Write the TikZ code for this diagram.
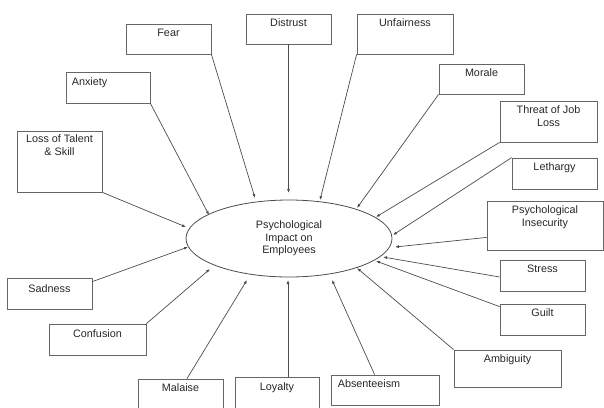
\documentclass[tikz,border=0pt]{standalone}
\usepackage{fontspec}
\setmainfont{Liberation Sans}
\usetikzlibrary{arrows.meta,calc,shapes.geometric}
\begin{document}
\begin{tikzpicture}[x=1pt,y=-1pt,
  box/.style={draw=black!60,line width=0.8pt,inner sep=0pt,rectangle},
  lab/.style={font=\fontsize{10.8}{13}\selectfont,text=black!85,align=center,inner sep=0pt,anchor=north,yshift=-5pt},
  labl/.style={font=\fontsize{10.8}{13}\selectfont,text=black!85,align=left,inner sep=0pt,anchor=north west,yshift=-5pt},
  conn/.style={draw=black!70,line width=0.7pt,-{Latex[length=4pt,width=3pt]}}]
\useasboundingbox (0,0) rectangle (604,407);
\begin{scope}
\clip (0,0) rectangle (604,407);
% ellipse
\node[ellipse,draw=black!70,line width=0.8pt,minimum width=206pt,minimum height=77pt,inner sep=0pt,
  font=\fontsize{10.8}{12.5}\selectfont,text=black!85,align=center] (c) at (289,238.5) {Psychological\\Impact on\\Employees};
% boxes
\node[box,minimum width=85pt,minimum height=30pt,label={[lab]north:Fear}] (fear) at (168.5,39) {};
\node[box,minimum width=85pt,minimum height=30pt,label={[lab]north:Distrust}] (distrust) at (288.5,29) {};
\node[box,minimum width=96pt,minimum height=40pt,label={[lab]north:Unfairness}] (unfair) at (405,34) {};
\node[box,minimum width=85pt,minimum height=30pt,label={[lab]north:Morale}] (morale) at (481.5,79) {};
\node[box,minimum width=97pt,minimum height=41pt,label={[lab]north:Threat of Job\\Loss}] (threat) at (548.5,121.5) {};
\node[box,minimum width=85pt,minimum height=31pt,label={[lab]north:Lethargy}] (lethargy) at (554.5,173.5) {};
\node[box,minimum width=116pt,minimum height=49pt,label={[lab]north:Psychological\\Insecurity}] (psych) at (545,225.5) {};
\node[box,minimum width=85pt,minimum height=31pt,label={[lab]north:Stress}] (stress) at (542.5,275.5) {};
\node[box,minimum width=85pt,minimum height=31pt,label={[lab]north:Guilt}] (guilt) at (542.5,319.5) {};
\node[box,minimum width=107pt,minimum height=37pt,label={[lab]north:Ambiguity}] (ambig) at (507.5,368.5) {};
\node[box,minimum width=108pt,minimum height=30pt,label={[labl,xshift=7pt]north west:Absenteeism}] (absent) at (385,390) {};
\node[box,minimum width=84pt,minimum height=36pt,label={[lab,yshift=-1pt]north:Loyalty}] (loyalty) at (277,395) {};
\node[box,minimum width=85pt,minimum height=34pt,label={[lab]north:Malaise}] (malaise) at (180.5,396) {};
\node[box,minimum width=97pt,minimum height=31pt,label={[lab,yshift=-1pt]north:Confusion}] (confusion) at (97.5,339.5) {};
\node[box,minimum width=85pt,minimum height=31pt,label={[lab,yshift=-2pt]north:Sadness}] (sadness) at (49.5,293.5) {};
\node[box,minimum width=85pt,minimum height=61pt,label={[lab,yshift=1pt]north:Loss of Talent\\\& Skill}] (loss) at (59.5,161.5) {};
\node[box,minimum width=84pt,minimum height=31pt,label={[labl,xshift=6pt,yshift=-1pt]north west:Anxiety}] (anxiety) at (108,87.5) {};
% arrow tips
\coordinate (tfear) at (255,198);
\coordinate (tdistrust) at (288.5,193);
\coordinate (tunfair) at (320,200);
\coordinate (tmorale) at (357,208);
\coordinate (tthreat) at (376,217);
\coordinate (tlethargy) at (393,235);
\coordinate (tpsych) at (395,247);
\coordinate (tstress) at (383,257);
\coordinate (tguilt) at (376,261);
\coordinate (tambig) at (357,268);
\coordinate (tabsent) at (332,280);
\coordinate (tloyalty) at (288,280);
\coordinate (tmalaise) at (247,280);
\coordinate (tconfusion) at (210,269);
\coordinate (tsadness) at (188,247);
\coordinate (tloss) at (186,227);
\coordinate (tanxiety) at (209,215);
% connectors
\draw[conn] (fear.south east) -- (tfear);
\draw[conn] (distrust.south) -- (tdistrust);
\draw[conn] (unfair.south west) -- (tunfair);
\draw[conn] (morale.south west) -- (tmorale);
\draw[conn] (threat.south west) -- (tthreat);
\draw[conn] (lethargy.north west) -- (tlethargy);
\draw[conn] ($(psych.south west)+(0,-13)$) -- (tpsych);
\draw[conn] ($(stress.west)+(0,1.5)$) -- (tstress);
\draw[conn] ($(guilt.north west)+(0,3)$) -- (tguilt);
\draw[conn] (ambig.north west) -- (tambig);
\draw[conn] ($(absent.north west)+(44,0)$) -- (tabsent);
\draw[conn] ($(loyalty.north)+(11,0)$) -- (tloyalty);
\draw[conn] ($(malaise.north)+(6.5,0)$) -- (tmalaise);
\draw[conn] (confusion.north east) -- (tconfusion);
\draw[conn] ($(sadness.north east)+(0,4)$) -- (tsadness);
\draw[conn] (loss.south east) -- (tloss);
\draw[conn] (anxiety.south east) -- (tanxiety);
\end{scope}
\end{tikzpicture}
\end{document}
